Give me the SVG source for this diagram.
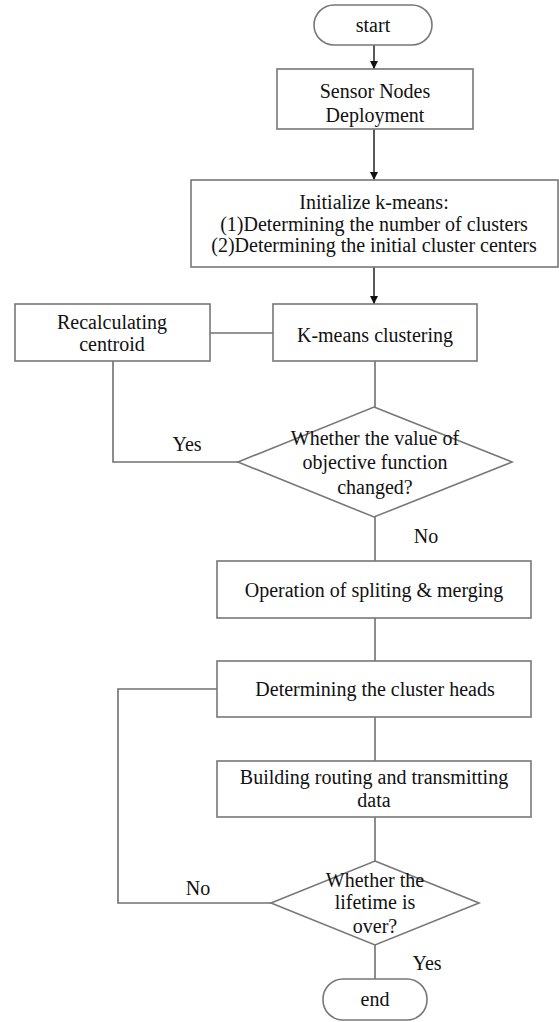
<svg xmlns="http://www.w3.org/2000/svg" width="559" height="1022" viewBox="0 0 559 1022">
<style>
.box{fill:#fff;stroke:#777;stroke-width:1.6}
.ln{fill:none;stroke:#707070;stroke-width:1.6}
.ar{fill:none;stroke:#222;stroke-width:1.5}
text{font-family:"Liberation Serif","Times New Roman",serif;font-size:20px;fill:#111;text-anchor:middle}
</style>
<defs>
<marker id="ah" viewBox="0 0 10 10" refX="10" refY="5" markerWidth="8" markerHeight="8" markerUnits="userSpaceOnUse" orient="auto">
<path d="M0,0 L10,5 L0,10 Z" fill="#111"/>
</marker>
</defs>
<rect width="559" height="1022" fill="#fff"/>
<g id="connectors">
<line class="ar" x1="374" y1="45" x2="374" y2="69" marker-end="url(#ah)"/>
<line class="ar" x1="374" y1="129" x2="374" y2="180" marker-end="url(#ah)"/>
<line class="ar" x1="374" y1="267" x2="374" y2="304" marker-end="url(#ah)"/>
<line class="ln" x1="210" y1="333" x2="273" y2="333"/>
<line class="ln" x1="375" y1="361" x2="375" y2="407"/>
<polyline class="ln" points="238,462 113,462 113,361"/>
<line class="ln" x1="375" y1="517" x2="375" y2="561"/>
<line class="ln" x1="375" y1="618" x2="375" y2="661"/>
<line class="ln" x1="375" y1="717" x2="375" y2="761"/>
<polyline class="ln" points="217,689 118,689 118,903 271,903"/>
<line class="ln" x1="375" y1="817" x2="375" y2="861"/>
<line class="ln" x1="375" y1="945" x2="375" y2="979"/>
<text x="187" y="451">Yes</text>
<text x="426" y="543">No</text>
<text x="198" y="895">No</text>
<text x="427" y="970">Yes</text>
</g>
<g id="start">
<rect class="box" x="314" y="5" width="118" height="40" rx="20"/>
<text x="373" y="32">start</text>
</g>
<g id="sensor">
<rect class="box" x="277" y="69" width="196" height="60"/>
<text x="375" y="98">Sensor Nodes</text>
<text x="375" y="122">Deployment</text>
</g>
<g id="init">
<rect class="box" x="191" y="180" width="367" height="87"/>
<text x="374" y="209">Initialize k-means:</text>
<text x="374" y="231">(1)Determining the number of clusters</text>
<text x="374" y="252">(2)Determining the initial cluster centers</text>
</g>
<g id="recalc">
<rect class="box" x="15" y="304" width="195" height="57"/>
<text x="112" y="329">Recalculating</text>
<text x="112" y="351">centroid</text>
</g>
<g id="kmeans">
<rect class="box" x="273" y="304" width="204" height="57"/>
<text x="375" y="342">K-means clustering</text>
</g>
<g id="decision1">
<polygon class="box" points="374,407 512,462 374,517 238,462"/>
<text x="375" y="445">Whether the value of</text>
<text x="375" y="469">objective function</text>
<text x="375" y="494">changed?</text>
</g>
<g id="split">
<rect class="box" x="217" y="561" width="314" height="57"/>
<text x="374" y="597">Operation of spliting &amp; merging</text>
</g>
<g id="heads">
<rect class="box" x="217" y="661" width="314" height="56"/>
<text x="375" y="696">Determining the cluster heads</text>
</g>
<g id="routing">
<rect class="box" x="217" y="761" width="314" height="56"/>
<text x="374" y="784">Building routing and transmitting</text>
<text x="374" y="807">data</text>
</g>
<g id="decision2">
<polygon class="box" points="375,861 479,903 375,945 271,903"/>
<text x="375" y="887">Whether the</text>
<text x="375" y="909">lifetime is</text>
<text x="375" y="933">over?</text>
</g>
<g id="end">
<rect class="box" x="323" y="979" width="104" height="41" rx="20"/>
<text x="375" y="1006">end</text>
</g>
</svg>
